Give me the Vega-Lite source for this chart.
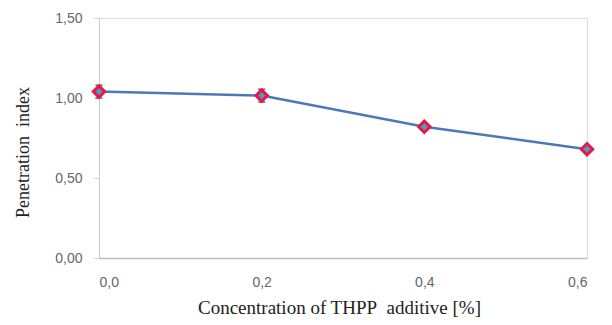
{
  "$schema": "https://vega.github.io/schema/vega-lite/v6.json",
  "autosize": {"type": "none"},
  "width": 488,
  "height": 240,
  "padding": {"left": 99, "top": 18, "right": 25, "bottom": 67},
  "background": "white",
  "data": {"values": [
    {"c": 0.0, "p": 1.04, "lo": 1.0, "hi": 1.08},
    {"c": 0.2, "p": 1.015, "lo": 0.975, "hi": 1.055},
    {"c": 0.4, "p": 0.82, "lo": 0.8, "hi": 0.84},
    {"c": 0.6, "p": 0.68, "lo": 0.67, "hi": 0.69}
  ]},
  "encoding": {
    "x": {"field": "c", "type": "quantitative",
      "scale": {"domain": [0, 0.6], "nice": false},
      "axis": {"values": [0, 0.2, 0.4, 0.6], "labelExpr": "replace(format(datum.value, '.1f'), '.', ',')",
        "title": "Concentration of THPP\u00a0 additive [%]", "grid": false, "ticks": false,
        "domainColor": "#bdbdbd", "domainWidth": 1.5, "labelColor": "#666666", "labelFont": "Liberation Sans", "labelFontSize": 14,
        "labelPadding": 17, "titleFont": "Liberation Serif", "titleFontWeight": "normal", "titleFontSize": 19, "titleColor": "#222222", "titlePadding": 9, "titleX": 240}},
    "y": {"field": "p", "type": "quantitative",
      "scale": {"domain": [0, 1.5], "nice": false},
      "axis": {"values": [0, 0.5, 1, 1.5], "labelExpr": "replace(format(datum.value, '.2f'), '.', ',')",
        "title": "Penetration\u00a0 index", "grid": false, "tickSize": 5, "tickColor": "#d0d0d0",
        "domainColor": "#cccccc", "labelColor": "#666666", "labelFont": "Liberation Sans", "labelFontSize": 14,
        "labelPadding": 12, "titleFont": "Liberation Serif", "titleFontWeight": "normal", "titleFontSize": 18, "titleColor": "#222222", "titlePadding": 22, "titleY": 134}}
  },
  "layer": [
    {"mark": {"type": "line", "color": "#4a7ab5", "strokeWidth": 2.5}},
    {"mark": {"type": "rule", "color": "#222222", "strokeWidth": 1.5}, "encoding": {"y": {"field": "lo", "type": "quantitative"}, "y2": {"field": "hi"}}},
    {"mark": {"type": "tick", "color": "#222222", "thickness": 1.5, "size": 7, "orient": "horizontal"}, "encoding": {"y": {"field": "lo", "type": "quantitative"}}},
    {"mark": {"type": "tick", "color": "#222222", "thickness": 1.5, "size": 7, "orient": "horizontal"}, "encoding": {"y": {"field": "hi", "type": "quantitative"}}},
    {"mark": {"type": "point", "shape": "diamond", "size": 130, "filled": true, "fill": "#4a9fc0", "stroke": "#e8174a", "strokeWidth": 3, "opacity": 1}}
  ]
}
